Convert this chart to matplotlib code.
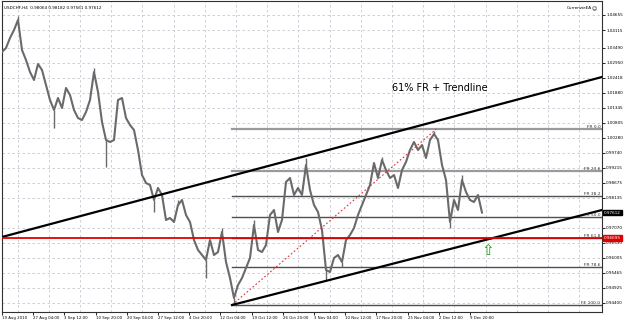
import numpy as np
import matplotlib
matplotlib.use("Agg")
import matplotlib.pyplot as plt

plt.rcParams['font.family'] = ['DejaVu Sans']

close = [1.03336, 1.03479, 1.03835, 1.04120, 1.04477, 1.03407, 1.03051, 1.02623, 1.02338, 1.02908,
         1.02694, 1.02159, 1.01625, 1.01268, 1.01696, 1.01340, 1.02053, 1.01803, 1.01268, 1.00983,
         1.00912, 1.01197, 1.01625, 1.02623, 1.01910, 1.00840, 1.00199, 1.00127, 1.00199, 1.01625,
         1.01696, 1.00983, 1.00733, 1.00555, 0.99842, 0.98951, 0.98666, 0.98594, 0.98060, 0.98488,
         0.98238, 0.97347, 0.97418, 0.97275, 0.97881, 0.98060, 0.97525, 0.97275, 0.96634, 0.96277,
         0.96099, 0.95921, 0.96634, 0.96099, 0.96206, 0.96919, 0.95849, 0.95279, 0.94566, 0.95029,
         0.95279, 0.95635, 0.95992, 0.97168, 0.96277, 0.96206, 0.96455, 0.97525, 0.97703, 0.96919,
         0.97347, 0.98701, 0.98844, 0.98238, 0.98488, 0.98238, 0.99307, 0.98416, 0.97881, 0.97632,
         0.96990, 0.95564, 0.95493, 0.95992, 0.96099, 0.95849, 0.96634, 0.96812, 0.97062, 0.97525,
         0.97881, 0.98238, 0.98594, 0.99379, 0.98844, 0.99486, 0.99129, 0.98844, 0.98951, 0.98488,
         0.99129, 0.99414, 0.99842, 1.00127, 0.99842, 1.00020, 0.99557, 1.00199, 1.00413, 1.00199,
         0.99307, 0.98773, 0.97275, 0.98060, 0.97703, 0.98773, 0.98345, 0.98060, 0.97988, 0.98238,
         0.97612]

# wick extremes that stick out of the close line (sample index, price)
spike_idx = [4, 13, 23, 26, 38, 44, 51, 55, 58, 63, 76, 81, 85, 95, 108, 112, 115]
spike_px = [1.04620, 1.00627, 1.02766, 0.99236, 0.97632, 0.98060, 0.95279, 0.97062, 0.94316,
            0.97347, 0.99557, 0.95208, 0.95671, 0.99593, 1.00520, 0.97062, 0.98951]

date_labels = ['19 Aug 2010', '27 Aug 04:00', '3 Sep 12:00', '10 Sep 20:00', '20 Sep 04:00',
               '27 Sep 12:00', '4 Oct 20:00', '12 Oct 04:00', '19 Oct 12:00', '26 Oct 20:00',
               '3 Nov 04:00', '10 Nov 12:00', '17 Nov 20:00', '25 Nov 04:00', '2 Dec 12:00',
               '9 Dec 20:00']
price_ticks = [1.04655, 1.04115, 1.03490, 1.02950, 1.02418, 1.01880, 1.01345, 1.00805, 1.00280,
               0.99740, 0.99215, 0.98675, 0.98135, 0.97070, 0.96530, 0.96005, 0.95465, 0.94925,
               0.94400]

# fibo anchors (sample index, price)
fib_low = (57.5, 0.94316)
fib_high = (108.5, 1.00580)
fib_ratios = [0.0, 23.6, 38.2, 50.0, 61.8, 78.6, 100.0]
fib_names = ['FR 0.0', 'FR 23.6', 'FR 38.2', 'FR 50.0', 'FR 61.8', 'FR 78.6', 'FE 100.0']

# trendlines (sample index, price)
upper_tl = [(0, 0.96741), (150, 1.02445)]
lower_tl = [(57.5, 0.94316), (150, 0.97703)]
red_level = 0.96695
last_price = 0.97612

fig = plt.figure(figsize=(6.25, 3.23), dpi=100)
ax = fig.add_axes([2/625, 11/323, 600/625, 311/323])
ax.set_xlim(0, 150)
ax.set_ylim(0.94067, 1.05154)

# grid
for g in np.arange(3.9, 150, 7.8):
    ax.axvline(g, color='#c8c8d4', lw=0.6, ls=(0, (3, 3)), zorder=0)
for p in price_ticks:
    ax.axhline(p, color='#c8c8d4', lw=0.6, ls=(0, (3, 3)), zorder=0)

xs = np.arange(len(close))
ax.plot(xs, close, color='#6a6a6a', lw=1.5, zorder=3)
ax.vlines(spike_idx, [close[i] for i in spike_idx], spike_px, color='#6a6a6a', lw=1.0, zorder=3)

# fibo levels
rng = fib_high[1] - fib_low[1]
for r, name in zip(fib_ratios, fib_names):
    lvl = fib_high[1] - r / 100.0 * rng
    if r < 30:
        ax.plot([fib_low[0], 150], [lvl, lvl], color='#9a9a9a', lw=1.6, zorder=2)
    else:
        ax.plot([fib_low[0], 150], [lvl, lvl], color='#505050', lw=1.0, zorder=2)
    ax.text(149.6, lvl, name, fontsize=3.2, ha='right', va='bottom', color='#333333', zorder=5)
ax.plot([fib_low[0], fib_high[0]], [fib_low[1], fib_high[1]], color='#e03030', lw=0.8,
        ls=(0, (1.5, 2)), zorder=4)

# trendlines
ax.plot(*zip(*upper_tl), color='black', lw=1.6, zorder=4)
ax.plot(*zip(*lower_tl), color='black', lw=1.6, zorder=4)
ax.axhline(red_level, color='#e00000', lw=1.3, zorder=4)

ax.text(121.5, 0.96277, '\u21e7', color='#1a9a1a', fontsize=11, ha='center', va='center', zorder=6)
ax.text(97.5, 1.02053, '61% FR + Trendline', fontsize=7, ha='left', va='center', color='black')

ax.text(0.5, 1.0490, 'USDCHF,H4  0.98064 0.98182 0.97561 0.97612', fontsize=3.0, ha='left',
        va='center', color='black')
ax.text(147.4, 1.0490, 'CurrenzieEA', fontsize=3.0, ha='right', va='center', color='black')
ax.text(148.8, 1.0490, '\u263a', fontsize=3.6, ha='right', va='center', color='black')

# axes style
ax.yaxis.tick_right()
ax.set_yticks(price_ticks)
ax.set_yticklabels(['%.5f' % p for p in price_ticks])
ax.tick_params(axis='y', labelsize=3.0, length=2, pad=1, width=0.6)
ax.set_xticks(np.arange(len(date_labels)) * 7.8)
ax.set_xticklabels(date_labels, ha='left')
ax.tick_params(axis='x', labelsize=2.8, length=2, pad=1, width=0.6)
for s in ax.spines.values():
    s.set_linewidth(0.8)
    s.set_color('#303030')

ax.text(1.003, last_price, '%.5f' % last_price, transform=ax.get_yaxis_transform(), fontsize=3.0,
        color='white', va='center', ha='left',
        bbox=dict(facecolor='black', edgecolor='black', pad=0.6))
ax.text(1.003, red_level, '%.5f' % red_level, transform=ax.get_yaxis_transform(), fontsize=3.0,
        color='white', va='center', ha='left',
        bbox=dict(facecolor='#e00000', edgecolor='#e00000', pad=0.6))

fig.savefig('out.png', dpi=100)
